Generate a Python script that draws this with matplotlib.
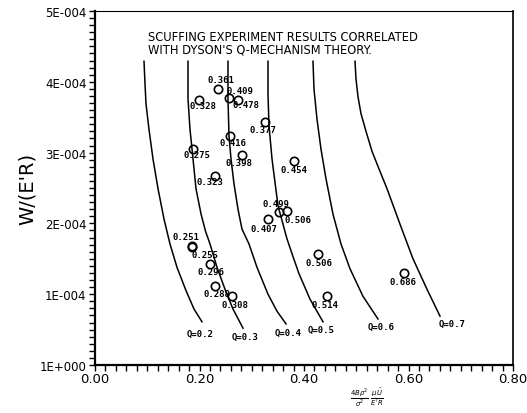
import matplotlib
matplotlib.use("Agg")
import matplotlib.pyplot as plt
from matplotlib.ticker import MultipleLocator, FixedLocator

# theory curves, constant Q (x values, y values in units of 1E-4)
q_labels = ["Q=0.2", "Q=0.3", "Q=0.4", "Q=0.5", "Q=0.6", "Q=0.7"]
curve_x = [
    [0.0938, 0.0957, 0.0976, 0.1033, 0.1110, 0.1206, 0.1321, 0.1435, 0.1569, 0.1742, 0.1895, 0.2048],
    [0.178, 0.178, 0.1818, 0.1876, 0.1933, 0.2030, 0.2115, 0.2201, 0.2335, 0.2488, 0.2641, 0.2833],
    [0.2545, 0.2545, 0.2565, 0.2603, 0.2660, 0.2737, 0.2813, 0.2947, 0.3100, 0.3311, 0.3483, 0.3656],
    [0.3311, 0.3311, 0.3330, 0.3388, 0.3502, 0.3598, 0.3675, 0.3790, 0.3904, 0.4115, 0.4364],
    [0.4172, 0.4191, 0.4249, 0.4325, 0.4421, 0.4555, 0.4708, 0.4880, 0.5129, 0.5416],
    [0.4976, 0.4995, 0.5033, 0.5091, 0.5187, 0.5301, 0.5435, 0.5589, 0.5837, 0.6086, 0.6354, 0.6603],
]
curve_y = [
    [4.29, 3.97, 3.69, 3.33, 2.91, 2.49, 2.06, 1.71, 1.38, 1.05, 0.79, 0.61],
    [4.29, 3.76, 3.33, 2.91, 2.49, 2.13, 1.89, 1.71, 1.38, 1.07, 0.79, 0.52],
    [4.29, 3.76, 3.23, 2.91, 2.56, 2.20, 1.92, 1.71, 1.38, 1.00, 0.76, 0.58],
    [4.29, 3.83, 3.38, 2.91, 2.25, 1.99, 1.78, 1.53, 1.29, 0.93, 0.61],
    [4.29, 3.90, 3.47, 3.05, 2.63, 2.13, 1.71, 1.36, 0.97, 0.65],
    [4.29, 4.04, 3.79, 3.55, 3.30, 3.02, 2.77, 2.49, 1.99, 1.50, 1.07, 0.69],
]

# experiment points
pt_x = [0.236, 0.2565, 0.274, 0.1996, 0.325, 0.258, 0.188, 0.281, 0.381, 0.230,
        0.353, 0.367, 0.332, 0.185, 0.1866, 0.220, 0.2297, 0.2616, 0.426, 0.4435, 0.591]
pt_y = [3.90, 3.77, 3.75, 3.75, 3.43, 3.23, 3.05, 2.96, 2.88, 2.67,
        2.16, 2.17, 2.06, 1.685, 1.67, 1.43, 1.12, 0.97, 1.57, 0.975, 1.30]
pt_lab = ["0.361", "0.409", "0.478", "0.328", "0.377", "0.416", "0.275", "0.398", "0.454", "0.323",
          "0.499", "0.506", "0.407", "0.251", "0.255", "0.296", "0.288", "0.308", "0.506", "0.514", "0.686"]

y_ticks = [0, 1, 2, 3, 4, 5]
y_tick_labels = ["1E+000", "1E-004", "2E-004", "3E-004", "4E-004", "5E-004"]
x_ticks = [0.0, 0.2, 0.4, 0.6, 0.8]
x_tick_labels = ["0.00", "0.20", "0.40", "0.60", "0.80"]

# label offsets in pixels (right, down)
lab_off = [(2.4, -9.3), (11, -7.3), (7.4, 5), (3.4, 6), (-1.7, 7.4), (3.3, 6), (3.7, 5.7),
           (-2.4, 7.3), (0, 8.7), (-5, 6), (-3.6, -8.3), (11.6, 8), (-4.3, 9), (-5.4, -9),
           (12, 8), (0.7, 8), (2, 7.3), (3.3, 8.4), (1.5, 9), (-1.7, 8.7), (-0.7, 8.3)]
q_off = [(-2, 12), (2, 8), (2, 8), (-2, 8), (3, 7), (12, 7)]

fig = plt.figure(figsize=(5.27, 4.14), dpi=100)
ax = fig.add_axes([95 / 527, 48 / 414, 418 / 527, 354 / 414])

for i in range(len(curve_x)):
    ax.plot(curve_x[i], curve_y[i], color="black", lw=1.1, solid_joinstyle="round")
    ax.annotate(q_labels[i], (curve_x[i][-1], curve_y[i][-1]),
                xytext=(q_off[i][0] * 0.72, -q_off[i][1] * 0.72), textcoords="offset points",
                ha="center", va="center", fontsize=6.5, family="DejaVu Sans Mono", fontweight="bold")

ax.plot(pt_x, pt_y, "o", ms=6, mfc="none", mec="black", mew=1.2)
for i in range(len(pt_x)):
    ax.annotate(pt_lab[i], (pt_x[i], pt_y[i]),
                xytext=(lab_off[i][0] * 0.72, -lab_off[i][1] * 0.72), textcoords="offset points",
                ha="center", va="center", fontsize=6.5, family="DejaVu Sans Mono", fontweight="bold")

ax.set_xlim(0, 0.8)
ax.set_ylim(0, 5)
ax.xaxis.set_major_locator(FixedLocator(x_ticks))
ax.set_xticklabels(x_tick_labels, fontsize=9.5)
ax.xaxis.set_minor_locator(MultipleLocator(0.02))
ax.yaxis.set_major_locator(FixedLocator(y_ticks))
ax.set_yticklabels(y_tick_labels, fontsize=8.5)
ax.yaxis.set_minor_locator(MultipleLocator(0.1))
ax.tick_params(which="both", direction="out", length=4, width=1, pad=2)
ax.tick_params(axis="x", which="both", pad=1)

for s in ["left", "bottom"]:
    ax.spines[s].set_linewidth(1.6)
ax.spines["right"].set_linewidth(1.2)
ax.spines["top"].set_linewidth(0.8)

ax.text(0.127, 0.945, "SCUFFING EXPERIMENT RESULTS CORRELATED\nWITH DYSON'S Q-MECHANISM THEORY.",
        transform=ax.transAxes, ha="left", va="top", fontsize=8.3, linespacing=0.95)

ax.set_ylabel("W/(E'R)", fontsize=14, labelpad=2)
ax.text(0.651, -0.09, r"$\frac{4B\rho^2}{\sigma^2}\;\frac{\mu\bar{U}}{E'R}$",
        transform=ax.transAxes, ha="center", va="center", fontsize=7)

fig.savefig("out.png", dpi=100)
